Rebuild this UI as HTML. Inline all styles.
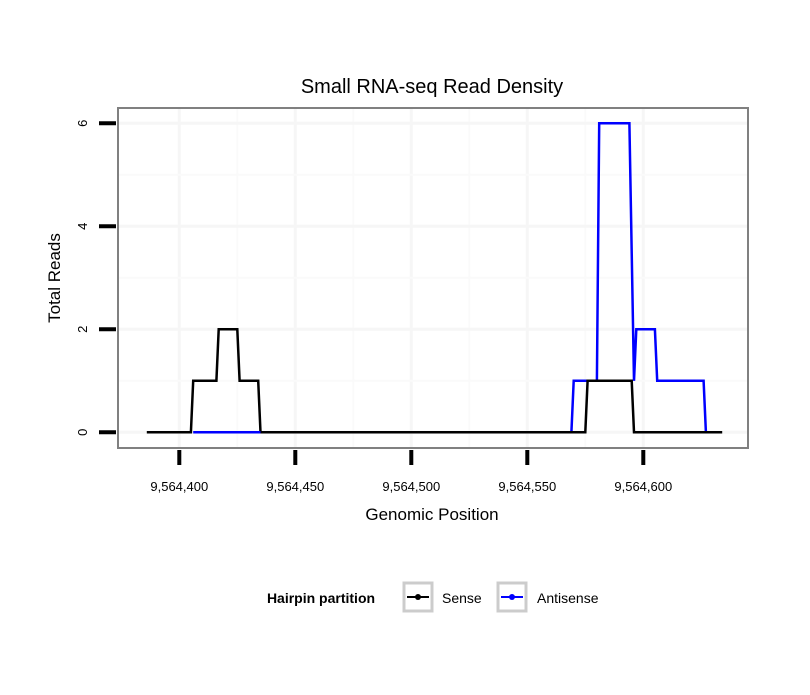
<!DOCTYPE html>
<html><head><meta charset="utf-8"><style>
body{margin:0;background:#fff;}
svg text{font-family:"Liberation Sans",sans-serif;}
</style></head><body>
<svg id="chart" width="810" height="690" xmlns="http://www.w3.org/2000/svg">
<rect width="810" height="690" fill="#fff"/>
<text x="432" y="93" font-size="20" text-anchor="middle">Small RNA-seq Read Density</text>
<rect x="118" y="108" width="630" height="340" fill="#fff"/>
<g id="grid"></g>
<g id="series"></g>
<rect x="118" y="108" width="630" height="340" fill="none" stroke="#808080" stroke-width="2"/>
<g id="axes"></g>
<text x="432" y="520" font-size="17" text-anchor="middle">Genomic Position</text>
<text transform="translate(60,278) rotate(-90)" font-size="17" text-anchor="middle">Total Reads</text>
<g>
<text x="321" y="603" font-size="14" font-weight="bold" text-anchor="middle">Hairpin partition</text>
<g>
<rect x="404" y="583" width="28" height="28" fill="#fff" stroke="#ccc" stroke-width="3"/>
<line x1="407" y1="597" x2="429" y2="597" stroke="#000" stroke-width="2"/>
<circle cx="418" cy="597" r="3" fill="#000"/>
<text x="442" y="603" font-size="14">Sense</text></g>
<g>
<rect x="498" y="583" width="28" height="28" fill="#fff" stroke="#ccc" stroke-width="3"/>
<line x1="501" y1="597" x2="523" y2="597" stroke="#00f" stroke-width="2"/>
<circle cx="512" cy="597" r="3" fill="#00f"/>
<text x="537" y="603" font-size="14">Antisense</text></g>
</g>
</svg>
<script>
const xTicks=[9564400,9564450,9564500,9564550,9564600];
const xTickLabels=["9,564,400","9,564,450","9,564,500","9,564,550","9,564,600"];
const yTicks=[0,2,4,6];
const yTickLabels=["0","2","4","6"];
const senseX=[9564386,9564405,9564406,9564416,9564417,9564425,9564426,9564434,9564435,9564575,9564576,9564595,9564596,9564634];
const senseY=[0,0,1,1,2,2,1,1,0,0,1,1,0,0];
const antiX1=[9564406,9564435];
const antiY1=[0,0];
const antiX2=[9564569,9564570,9564580,9564581,9564594,9564596,9564597,9564605,9564606,9564626,9564627];
const antiY2=[0,1,1,6,6,1,2,2,1,1,0];
const NS="http://www.w3.org/2000/svg";
function sx(v){return 179.3+(v-9564400)*2.32;}
function sy(v){return 432.3-v*51.5;}
function mk(tag,attrs,parent){const e=document.createElementNS(NS,tag);for(const k in attrs)e.setAttribute(k,attrs[k]);parent.appendChild(e);return e;}
const grid=document.getElementById('grid'),axes=document.getElementById('axes'),series=document.getElementById('series');
for(let i=0;i<xTicks.length;i++){
 const g=mk('line',{x1:sx(xTicks[i]),x2:sx(xTicks[i]),y1:108,y2:448,stroke:'#f6f6f6','stroke-width':3},grid);
 
 
}
for(let i=0;i<xTicks.length-1;i++){
 const m=(xTicks[i]+xTicks[i+1])/2;
 const g=mk('line',{x1:sx(m),x2:sx(m),y1:108,y2:448,stroke:'#fafafa','stroke-width':2},grid);
 
 
}
for(let i=0;i<yTicks.length;i++){
 const g=mk('line',{x1:118,x2:748,y1:sy(yTicks[i]),y2:sy(yTicks[i]),stroke:'#f6f6f6','stroke-width':3},grid);
 
 
 if(i<yTicks.length-1){
 const m=(yTicks[i]+yTicks[i+1])/2;
 const h=mk('line',{x1:118,x2:748,y1:sy(m),y2:sy(m),stroke:'#fafafa','stroke-width':2},grid);
 
 
 }
}
for(let i=0;i<xTicks.length;i++){
 const t=mk('line',{x1:sx(xTicks[i]),x2:sx(xTicks[i]),y1:450,y2:465,stroke:'#000','stroke-width':4},axes);
 
 
 const l=mk('text',{x:sx(xTicks[i]),y:491,'font-size':13,'text-anchor':'middle'},axes);
 l.textContent=xTickLabels[i];
 
 
}
for(let i=0;i<yTicks.length;i++){
 const t=mk('line',{x1:99,x2:116,y1:sy(yTicks[i]),y2:sy(yTicks[i]),stroke:'#000','stroke-width':4},axes);
 
 
 const l=mk('text',{transform:`translate(87,${sy(yTicks[i])}) rotate(-90)`,'font-size':13,'text-anchor':'middle'},axes);
 l.textContent=yTickLabels[i];
 
 
}
function path(xs,ys){return xs.map((x,i)=>(i?'L':'M')+sx(x).toFixed(1)+','+sy(ys[i]).toFixed(1)).join(' ');}
const a2=mk('path',{d:path(antiX2,antiY2),fill:'none',stroke:'#00f','stroke-width':2.5},series);


const s=mk('path',{d:path(senseX,senseY),fill:'none',stroke:'#000','stroke-width':2.5},series);


const a1=mk('path',{d:path(antiX1,antiY1),fill:'none',stroke:'#00f','stroke-width':2.5},series);


</script>
</body></html>
